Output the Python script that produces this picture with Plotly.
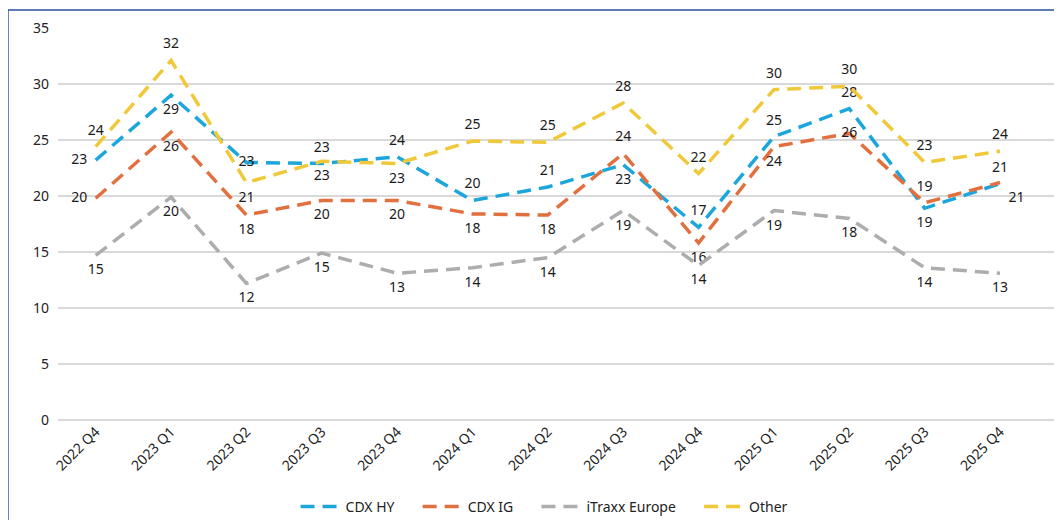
import plotly.graph_objects as go

categories = ["2022 Q4", "2023 Q1", "2023 Q2", "2023 Q3", "2023 Q4", "2024 Q1", "2024 Q2",
              "2024 Q3", "2024 Q4", "2025 Q1", "2025 Q2", "2025 Q3", "2025 Q4"]
cdx_hy = [23.2, 29.0, 23.0, 22.9, 23.5, 19.6, 20.8, 22.8, 17.2, 25.3, 27.8, 18.9, 21.1]
cdx_ig = [19.8, 25.7, 18.3, 19.6, 19.6, 18.4, 18.3, 23.8, 15.8, 24.4, 25.6, 19.4, 21.2]
itraxx = [14.7, 19.9, 12.2, 14.9, 13.1, 13.6, 14.5, 18.7, 13.8, 18.7, 18.0, 13.6, 13.1]
other = [24.4, 32.1, 21.2, 23.1, 22.9, 24.9, 24.8, 28.3, 22.0, 29.5, 29.8, 23.0, 24.0]

series_names = ["CDX HY", "CDX IG", "iTraxx Europe", "Other"]
series_values = [cdx_hy, cdx_ig, itraxx, other]
colors = ["#1CA6DB", "#E2703F", "#ADADAD", "#F0C93A"]
legend_pad = ["\u00a0" * 5, "\u00a0" * 5, "\u00a0" * 5, ""]

tc, bc, ml, mc, br, tl = ("top center", "bottom center", "middle left", "middle center",
                          "bottom right", "top left")
positions = [
    [ml, bc, mc, tc, tc, tc, tc, bc, tc, tc, tc, bc, tc],
    [ml, bc, bc, bc, bc, bc, bc, tc, bc, bc, mc, tc, br],
    [bc] * 13,
    [tc, tc, bc, bc, bc, tc, tc, tc, tc, tc, tc, tc, tc],
]

FONT = "Noto Sans"
fig = go.Figure()
for name, vals, col, pos, pad in zip(series_names, series_values, colors, positions, legend_pad):
    fig.add_trace(go.Scatter(
        x=categories, y=vals, name=name + pad,
        mode="lines+markers+text",
        line=dict(color=col, width=3.5, dash="14px,8px"),
        marker=dict(size=12, color="rgba(0,0,0,0)"),
        text=[f"{v:.0f}" for v in vals],
        textposition=pos,
        textfont=dict(family=FONT, size=14, color="#1a1a1a"),
        cliponaxis=False,
        hoverinfo="x+y",
    ))

fig.update_layout(
    width=1054, height=512,
    margin=dict(l=50, r=7, t=20, b=100, autoexpand=False),
    paper_bgcolor="white", plot_bgcolor="white",
    font=dict(family=FONT, size=14, color="#222222"),
    showlegend=True,
    legend=dict(orientation="h", x=0.488, xanchor="center", y=-0.222, yanchor="middle",
                font=dict(family=FONT, size=14, color="#222222"), itemwidth=40,
                tracegroupgap=0),
    xaxis=dict(type="category", range=[-0.5, 12.73], showgrid=False, showline=False,
               ticks="", tickangle=-45, automargin=False,
               tickfont=dict(family=FONT, size=14, color="#222222")),
    yaxis=dict(range=[0, 35], dtick=5, showgrid=True, gridcolor="#D9D9D9", gridwidth=1.5,
               zeroline=True, zerolinecolor="#D9D9D9", zerolinewidth=1.5, showline=False,
               ticks="", ticklabelstandoff=8, automargin=False,
               tickfont=dict(family=FONT, size=14, color="#222222")),
    shapes=[dict(type="rect", xref="paper", yref="paper",
                 x0=-0.0502, x1=1.02, y0=-0.3, y1=1.046,
                 line=dict(color="#2A4FA6", width=1.5), fillcolor="rgba(0,0,0,0)",
                 layer="below")],
)

fig.write_html("out.html")
